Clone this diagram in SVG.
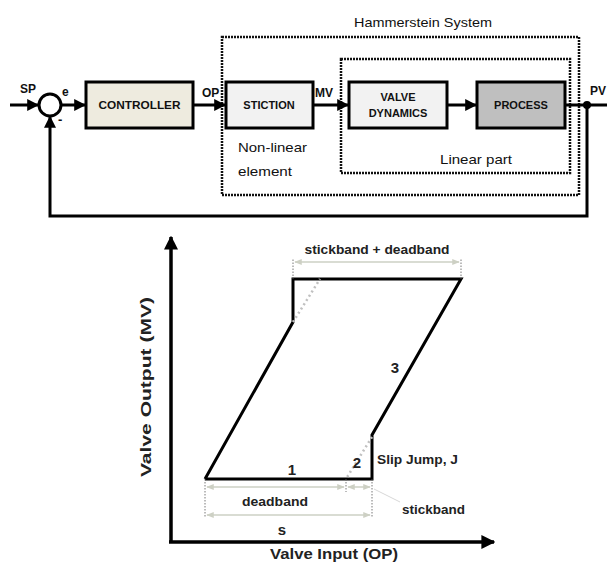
<svg xmlns="http://www.w3.org/2000/svg" width="607" height="563" viewBox="0 0 607 563">
<defs>
<style>
.blk{stroke:#000;stroke-width:3;}
.t{font-family:"Liberation Sans",Arial,sans-serif;fill:#111;}
.bt{font-family:"Liberation Sans",Arial,sans-serif;font-weight:bold;fill:#222;}
.ln{fill:none;stroke:#000;stroke-width:3;}
.dot{fill:none;stroke:#111;stroke-width:2.5;stroke-dasharray:2 1;}
.dim{fill:none;stroke:#cdd0c4;stroke-width:1.5;}
.tick{fill:none;stroke:#555;stroke-width:0.8;stroke-dasharray:1.5 1.5;}
.gdot{fill:none;stroke:#c0c0c0;stroke-width:2.5;stroke-dasharray:2 3;}
</style>
<marker id="ah" viewBox="0 0 10 10" refX="9" refY="5" markerWidth="4" markerHeight="4" orient="auto"><path d="M0,0L10,5L0,10z" fill="#000"/></marker>
<marker id="da" viewBox="0 0 10 10" refX="9" refY="5" markerWidth="5" markerHeight="5" orient="auto-start-reverse"><path d="M0,1L10,5L0,9z" fill="#cdd0c4"/></marker>
</defs>
<rect width="607" height="563" fill="#fff"/>

<g id="hammerstein">
<rect x="222" y="37" width="357" height="158" class="dot"/>
<text x="423" y="27" class="t" font-size="13" text-anchor="middle" textLength="138" lengthAdjust="spacingAndGlyphs">Hammerstein System</text>
</g>
<g id="linear-part">
<rect x="341" y="59" width="229" height="114" class="dot"/>
<text x="476" y="164" class="t" font-size="13" text-anchor="middle" textLength="72" lengthAdjust="spacingAndGlyphs">Linear part</text>
</g>

<g id="connectors">
<line x1="10" y1="105" x2="38" y2="105" class="ln" marker-end="url(#ah)"/>
<line x1="61" y1="105" x2="85" y2="105" class="ln" marker-end="url(#ah)"/>
<line x1="193" y1="105" x2="225" y2="105" class="ln" marker-end="url(#ah)"/>
<line x1="313" y1="105" x2="348" y2="105" class="ln" marker-end="url(#ah)"/>
<line x1="447" y1="105" x2="476" y2="105" class="ln" marker-end="url(#ah)"/>
<line x1="565" y1="105" x2="607" y2="105" class="ln"/>
<polyline points="587,105 587,216 50,216 50,117" class="ln" marker-end="url(#ah)"/>
<circle cx="587" cy="105" r="4" fill="#000"/>
</g>

<g id="sum">
<circle cx="50" cy="105" r="11" fill="#fff" stroke="#000" stroke-width="3"/>
<text x="20" y="93" class="t" font-size="12" font-weight="bold">SP</text>
<text x="62" y="96" class="t" font-size="12" font-weight="bold">e</text>
<text x="58" y="124" class="t" font-size="13" font-weight="bold">-</text>
</g>

<g id="controller">
<rect x="86" y="82" width="107" height="46" fill="#eeebdf" class="blk"/>
<text x="139.5" y="109" class="t" font-size="11" font-weight="bold" text-anchor="middle" textLength="82" lengthAdjust="spacingAndGlyphs">CONTROLLER</text>
</g>
<text x="202" y="97" class="t" font-size="12" font-weight="bold">OP</text>

<g id="stiction">
<rect x="226" y="82" width="87" height="46" fill="#f2f2f2" class="blk"/>
<text x="269" y="109" class="t" font-size="11" font-weight="bold" text-anchor="middle">STICTION</text>
<text x="238" y="152" class="t" font-size="13" textLength="69" lengthAdjust="spacingAndGlyphs">Non-linear</text>
<text x="238" y="176" class="t" font-size="13" textLength="54" lengthAdjust="spacingAndGlyphs">element</text>
</g>
<text x="315" y="97" class="t" font-size="12" font-weight="bold">MV</text>

<g id="valve-dynamics">
<rect x="349" y="82" width="98" height="46" fill="#f2f2f2" class="blk"/>
<text x="398" y="101" class="t" font-size="11" font-weight="bold" text-anchor="middle">VALVE</text>
<text x="398" y="117" class="t" font-size="11" font-weight="bold" text-anchor="middle">DYNAMICS</text>
</g>

<g id="process">
<rect x="477" y="82" width="88" height="46" fill="#bfbfbf" class="blk"/>
<text x="521" y="109" class="t" font-size="11" font-weight="bold" text-anchor="middle">PROCESS</text>
</g>
<text x="590" y="95" class="t" font-size="12" font-weight="bold">PV</text>

<g id="graph">
<line x1="171" y1="542" x2="171" y2="237" stroke="#000" stroke-width="3.5" marker-end="url(#ah)"/>
<line x1="169" y1="542" x2="494" y2="542" stroke="#000" stroke-width="3.5" marker-end="url(#ah)"/>
<text transform="translate(151,387) rotate(-90)" class="bt" font-size="14" text-anchor="middle" textLength="180" lengthAdjust="spacingAndGlyphs">Valve Output (MV)</text>
<text x="334" y="559" class="bt" font-size="14" text-anchor="middle" textLength="128" lengthAdjust="spacingAndGlyphs">Valve Input (OP)</text>

<polyline points="205,479 372,479 372,435 461,279 293,279 293,322 205,479" fill="none" stroke="#000" stroke-width="3" stroke-linejoin="miter"/>
<line x1="293" y1="322" x2="320" y2="279" class="gdot"/>
<line x1="372" y1="437" x2="346" y2="479" class="gdot"/>

<line x1="293" y1="279" x2="293" y2="259" class="tick"/>
<line x1="461" y1="279" x2="461" y2="259" class="tick"/>
<line x1="295" y1="262" x2="459" y2="262" class="dim" marker-start="url(#da)" marker-end="url(#da)"/>
<text x="377" y="254" class="bt" font-size="12.5" text-anchor="middle" textLength="145" lengthAdjust="spacingAndGlyphs">stickband + deadband</text>

<text x="395" y="373" class="bt" font-size="15" text-anchor="middle">3</text>
<text x="292" y="475" class="bt" font-size="15" text-anchor="middle">1</text>
<text x="357" y="468" class="bt" font-size="15" text-anchor="middle">2</text>
<text x="377" y="464" class="bt" font-size="12" textLength="81" lengthAdjust="spacingAndGlyphs">Slip Jump, J</text>

<line x1="205" y1="479" x2="205" y2="517" class="tick"/>
<line x1="372" y1="479" x2="372" y2="517" class="tick"/>
<line x1="346" y1="479" x2="346" y2="492" class="tick"/>
<line x1="207" y1="487" x2="344" y2="487" class="dim" marker-start="url(#da)" marker-end="url(#da)"/>
<line x1="348" y1="487" x2="370" y2="487" class="dim" marker-start="url(#da)" marker-end="url(#da)"/>
<line x1="207" y1="515" x2="370" y2="515" class="dim" marker-start="url(#da)" marker-end="url(#da)"/>
<line x1="374" y1="489" x2="400" y2="502" stroke="#d8d8d8" stroke-width="1"/>
<text x="275" y="506" class="bt" font-size="13.5" text-anchor="middle" textLength="66" lengthAdjust="spacingAndGlyphs">deadband</text>
<text x="282" y="535" class="bt" font-size="15" text-anchor="middle">s</text>
<text x="402" y="514" class="bt" font-size="13.5" textLength="63" lengthAdjust="spacingAndGlyphs">stickband</text>
</g>
</svg>
